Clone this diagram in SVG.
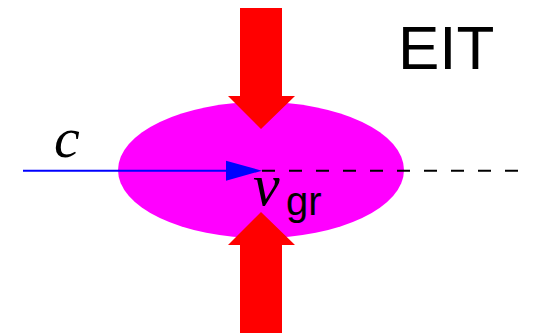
<svg xmlns="http://www.w3.org/2000/svg" width="538" height="335" viewBox="0 0 538 335">
<style>
.arrow{fill:#ff0000}
.lbl{font-family:"Liberation Serif",serif;font-style:italic;fill:#000}
.sans{font-family:"Liberation Sans",sans-serif;fill:#000}
</style>
<rect width="538" height="335" fill="#fff"/>
<g id="medium">
<ellipse cx="261" cy="170" rx="143" ry="68" fill="#ff00ff"/>
</g>
<g id="pump-top">
<polygon class="arrow" points="240,8 282,8 282,96 295,96 261,129 228,96 240,96"/>
</g>
<g id="pump-bottom">
<polygon class="arrow" points="240,333 282,333 282,245 295,245 261,212 228,245 240,245"/>
</g>
<g id="connectors">
<line x1="23" y1="170.7" x2="228" y2="170.7" stroke="#0000ff" stroke-width="2"/>
<polygon points="226,160.7 262,170.7 226,180.7" fill="#0000ff"/>
<line x1="262" y1="170.7" x2="520" y2="170.7" stroke="#000" stroke-width="2" stroke-dasharray="13,14"/>
</g>
<g id="labels">
<text class="lbl" x="54" y="157" font-size="58">c</text>
<text class="lbl" x="253" y="205" font-size="60">v</text>
<text class="sans" x="286" y="215" font-size="40">gr</text>
<text class="sans" x="398" y="69" font-size="62">EIT</text>
</g>
</svg>
